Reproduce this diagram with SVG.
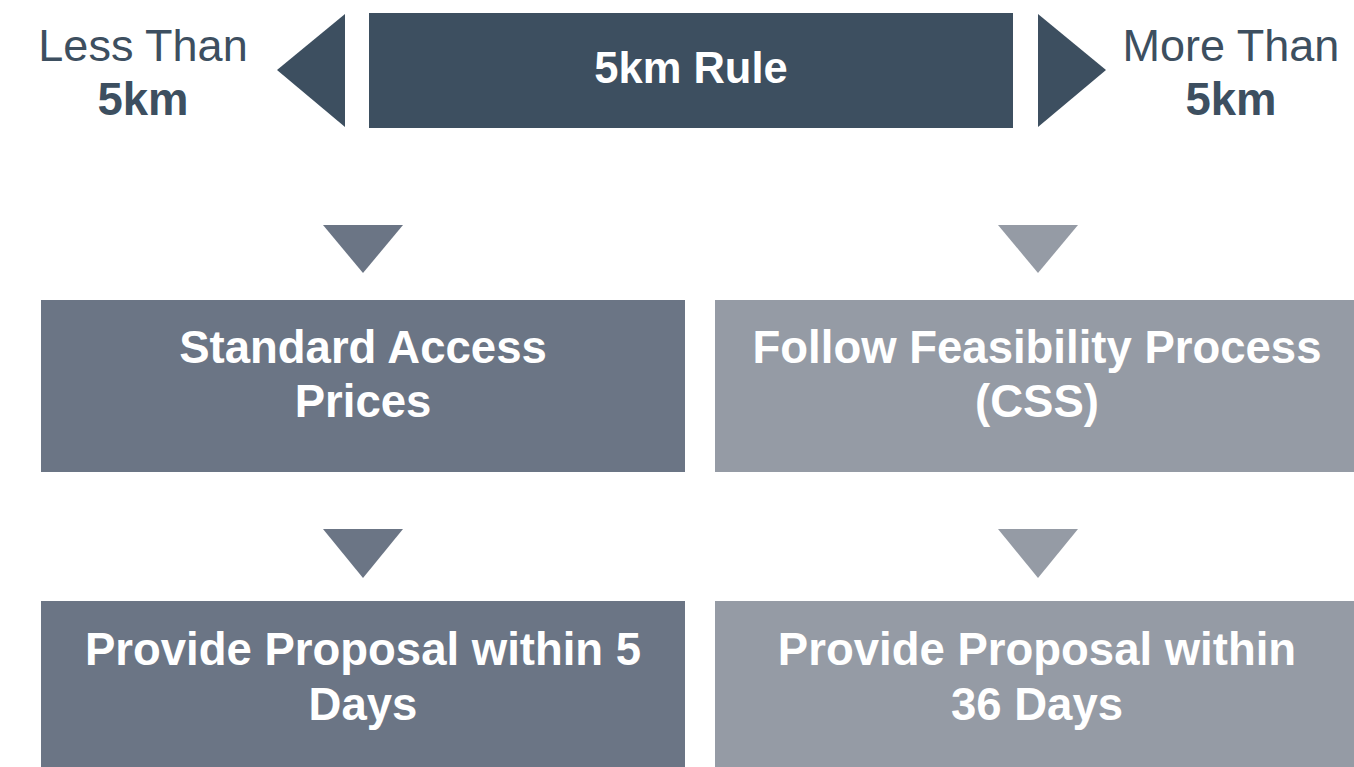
<svg xmlns="http://www.w3.org/2000/svg" width="1354" height="767" viewBox="0 0 1354 767">
<style>
.dark{fill:#3d4f60}
.mid{fill:#6b7585}
.light{fill:#959ba5}
.lbl{font-family:"Liberation Sans",Arial,sans-serif;font-size:45.5px;text-anchor:middle}
.reg{fill:#3d4f60;font-weight:normal;font-size:45px}
.bold{font-weight:bold;font-size:45.5px}
.w{fill:#ffffff;font-weight:bold}
</style>
<rect width="1354" height="767" fill="#ffffff"/>
<g id="rule">
<rect class="dark" x="369" y="13" width="644" height="115"/>
<text class="lbl w" x="691" y="83" style="font-size:43.5px">5km Rule</text>
</g>
<g id="less">
<text class="lbl reg" x="143" y="61">Less Than</text>
<text class="lbl reg bold" x="143" y="115">5km</text>
</g>
<g id="more">
<text class="lbl reg" x="1231" y="61">More Than</text>
<text class="lbl reg bold" x="1231" y="115">5km</text>
</g>
<g id="standard">
<rect class="mid" x="41" y="300" width="644" height="172"/>
<text class="lbl w" x="363" y="363">Standard Access</text>
<text class="lbl w" x="363" y="417">Prices</text>
</g>
<g id="feasibility">
<rect class="light" x="715" y="300" width="639" height="172"/>
<text class="lbl w" x="1037" y="363">Follow Feasibility Process</text>
<text class="lbl w" x="1037" y="417">(CSS)</text>
</g>
<g id="proposal5">
<rect class="mid" x="41" y="601" width="644" height="166"/>
<text class="lbl w" x="363" y="665">Provide Proposal within 5</text>
<text class="lbl w" x="363" y="720">Days</text>
</g>
<g id="proposal36">
<rect class="light" x="715" y="601" width="639" height="166"/>
<text class="lbl w" x="1037" y="665">Provide Proposal within</text>
<text class="lbl w" x="1037" y="720">36 Days</text>
</g>
<g id="connectors">
<polygon class="dark" points="345,14 345,127 277,70"/>
<polygon class="dark" points="1038,14 1038,127 1106,70"/>
<polygon class="mid" points="323,225 403,225 363,273"/>
<polygon class="light" points="998,225 1078,225 1038,273"/>
<polygon class="mid" points="323,529 403,529 363,578"/>
<polygon class="light" points="998,529 1078,529 1038,578"/>
</g>
</svg>
